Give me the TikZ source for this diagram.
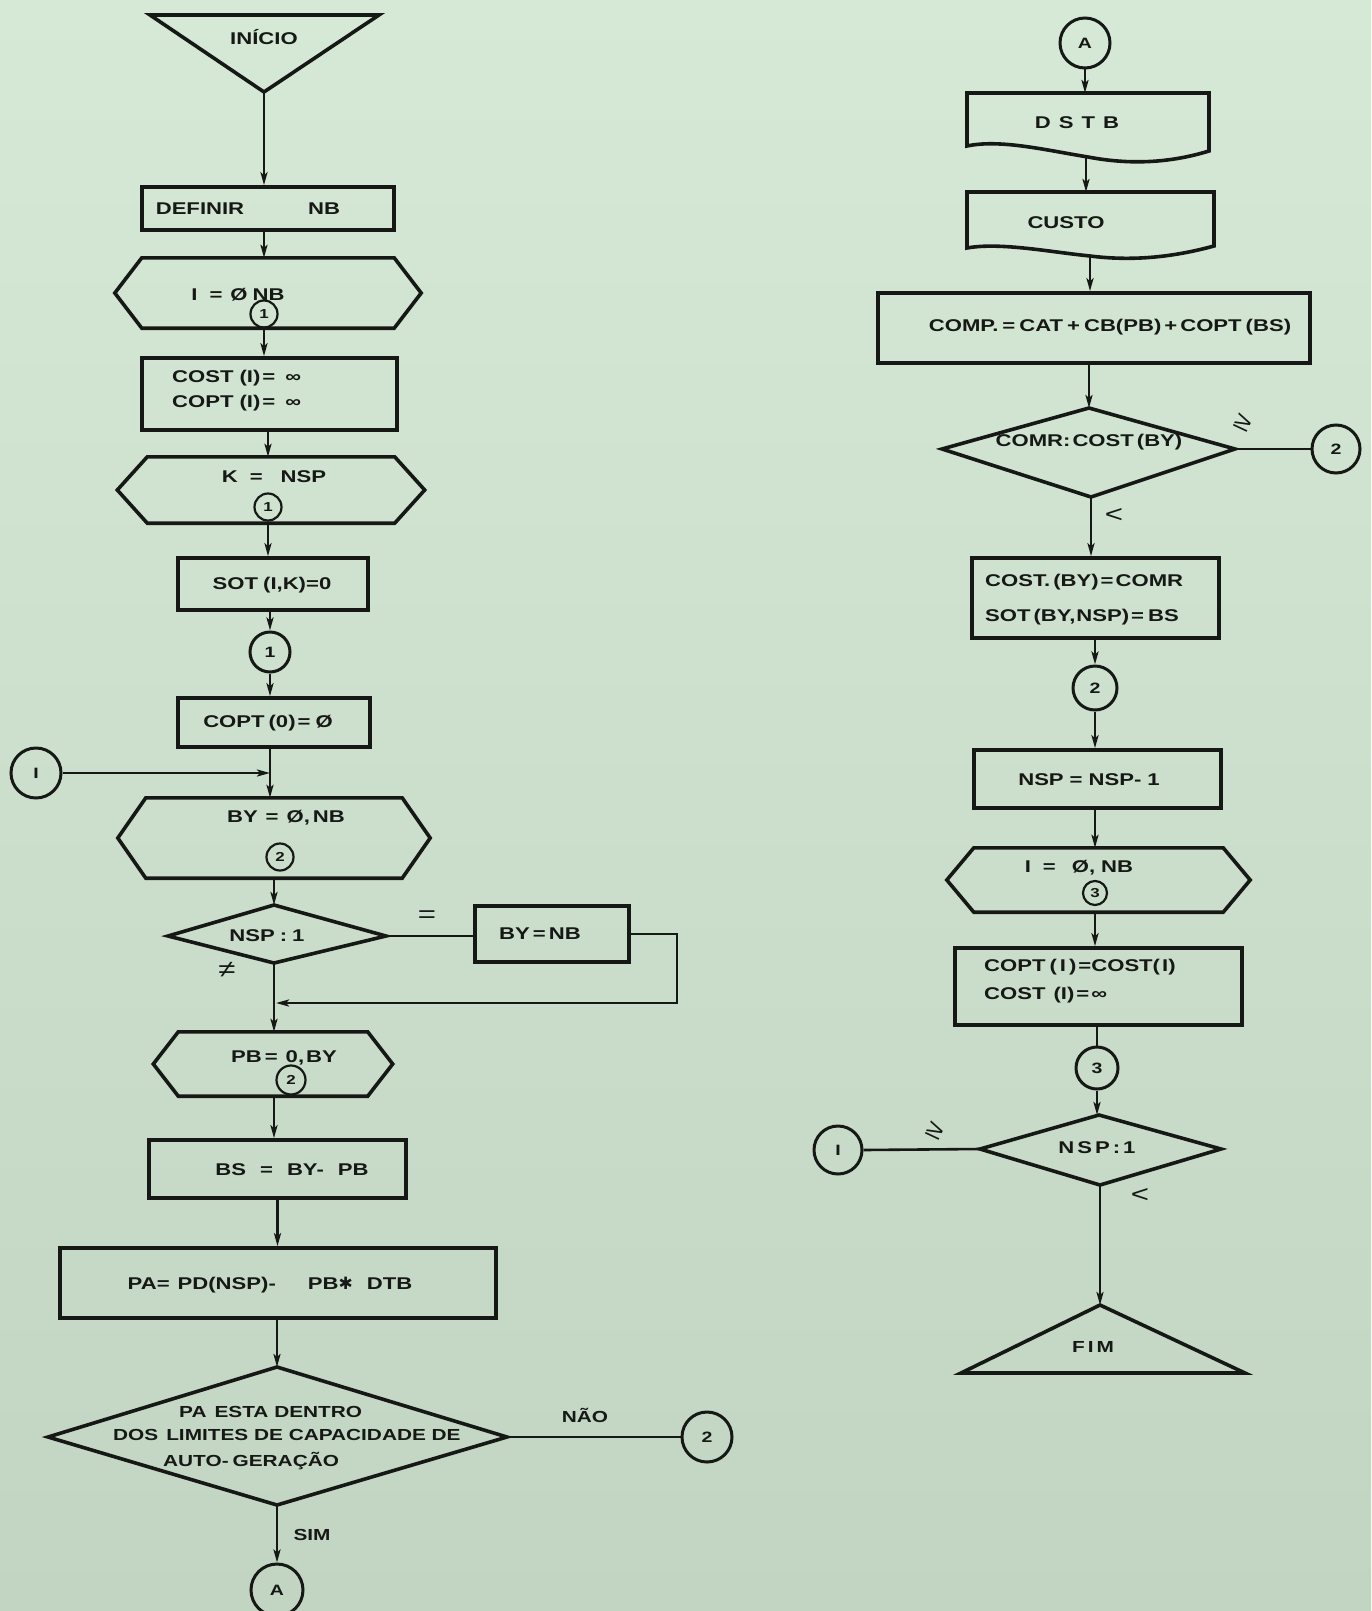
\documentclass[tikz,border=0pt]{standalone}
\usepackage{fontspec}
\setmainfont{Liberation Sans}[FakeStretch=1.3]
\newfontfamily\dvfont{DejaVu Sans}
\usetikzlibrary{arrows.meta,calc}
\definecolor{paperT}{RGB}{214,233,214}
\definecolor{paperB}{RGB}{194,213,194}
\definecolor{ink}{RGB}{22,24,22}
\tikzset{
  shp/.style={draw=ink, line width=3.6pt, line join=miter},
  con/.style={draw=ink, line width=2.6pt},
  arr/.style={con, -{Stealth[length=13pt,width=7pt,inset=3pt]}},
  boxn/.style={shp, rectangle, inner sep=0pt},
  frame/.style={rectangle, inner sep=0pt, draw=none},
  lbl/.style={text=ink, inner sep=0pt, font=\fontsize{17}{21}\selectfont\bfseries},
  lbls/.style={text=ink, inner sep=0pt, font=\fontsize{16}{20}\selectfont\bfseries},
  sym/.style={text=ink, inner sep=0pt, font=\fontsize{24}{24}\selectfont},
  bcirc/.style={draw=ink, line width=3pt, circle, inner sep=0pt, text=ink, font=\fontsize{15}{15}\selectfont\bfseries},
  scirc/.style={draw=ink, line width=2.2pt, circle, inner sep=0pt, minimum size=27pt, text=ink, font=\fontsize{13}{13}\selectfont\bfseries},
}
\begin{document}
\begin{tikzpicture}[x=1pt,y=-1pt]
\shade[top color=paperT, bottom color=paperB] (0,0) rectangle (1371,1611);
\useasboundingbox (0,0) rectangle (1371,1611);

% ================= LEFT COLUMN =================
% INICIO
\coordinate (s1) at (150,15); \coordinate (s2) at (379,15); \coordinate (s3) at (264,92);
\draw[shp] (s1) -- (s2) -- (s3) -- cycle;
\node[lbl] (tinicio) at (264,37) {INÍCIO};

% DEFINIR NB
\node[boxn, minimum width=252pt, minimum height=43pt] (def) at (268,208.5) {};
\node[lbl] (tdef1) at (200,209) {DEFINIR};
\node[lbl] (tdef2) at (324,209) {NB};
\draw[arr] (s3) -- (s3 |- def.north);

% hex 1
\node[frame, minimum width=252pt, minimum height=70pt] (hx1) at (268,293) {};
\draw[shp] (hx1.north west) -- (hx1.north east) -- ($(hx1.east)+(27,0)$) -- (hx1.south east) -- (hx1.south west) -- ($(hx1.west)+(-27,0)$) -- cycle;
\node[lbl] (thx1) at (238,295) {I\hspace{12pt}=\hspace{8pt}Ø\hspace{5pt}NB};
\node[scirc] (k1) at (264,314) {1};
\draw[arr] (def.south -| s3) -- (s3 |- hx1.north);

% COST / COPT box
\node[boxn, minimum width=255pt, minimum height=72pt] (cost) at (269.5,394) {};
\node[lbl, anchor=west] (tcost1) at (172,378) {COST\hspace{6pt}(I)\hspace{2pt}=\hspace{10pt}∞};
\node[lbl, anchor=west] (tcost2) at (172,403) {COPT\hspace{6pt}(I)\hspace{2pt}=\hspace{10pt}∞};
\draw[arr] (k1.south) -- (k1.south |- cost.north);

% hex 2
\node[frame, minimum width=247pt, minimum height=66pt] (hx2) at (271,490) {};
\draw[shp] (hx2.north west) -- (hx2.north east) -- ($(hx2.east)+(30,0)$) -- (hx2.south east) -- (hx2.south west) -- ($(hx2.west)+(-30,0)$) -- cycle;
\node[lbl] (thx2) at (274,477) {K\hspace{12pt}=\hspace{18pt}NSP};
\node[scirc] (k2) at (268,507) {1};
\draw[arr] (cost.south -| k2) -- (k2 |- hx2.north);

% SOT box
\node[boxn, minimum width=190pt, minimum height=52pt] (sot) at (273,584) {};
\node[lbl] (tsot) at (272,585) {SOT\hspace{5pt}(I,K)=0};
\draw[arr] (k2.south) -- (k2.south |- sot.north);

% connector circle 1
\node[bcirc, minimum size=40pt] (c1) at (270,652) {1};
\draw[arr] (sot.south -| c1) -- (c1.north);

% COPT(0) box
\node[boxn, minimum width=192pt, minimum height=49pt] (copt0) at (274,722.5) {};
\node[lbl] (tcopt0) at (268,723) {COPT\hspace{4pt}(0)\hspace{2pt}=\hspace{5pt}Ø};
\draw[arr] (c1.south) -- (c1.south |- copt0.north);

% entry connector I
\node[bcirc, minimum size=50pt] (cIL) at (36,773) {I};
\draw[arr] (cIL.east) -- (cIL.east -| c1.south);

% hex 3
\node[frame, minimum width=256pt, minimum height=80pt] (hx3) at (274,838) {};
\draw[shp] (hx3.north west) -- (hx3.north east) -- ($(hx3.east)+(28,0)$) -- (hx3.south east) -- (hx3.south west) -- ($(hx3.west)+(-28,0)$) -- cycle;
\node[lbl] (thx3) at (286,818) {BY\hspace{8pt}=\hspace{8pt}Ø,\hspace{3pt}NB};
\node[scirc] (k3) at (280,857) {2};
\draw[arr] (copt0.south -| c1) -- (c1 |- hx3.north);

% diamond NSP:1
\coordinate (d1t) at (274,905); \coordinate (d1l) at (168,936); \coordinate (d1r) at (386,936); \coordinate (d1b) at (274,963);
\draw[shp] (d1t) -- (d1r) -- (d1b) -- (d1l) -- cycle;
\node[lbl] (td1) at (267,936) {NSP\hspace{5pt}:\hspace{5pt}1};
\draw[arr] (hx3.south -| d1t) -- (d1t);

% BY = NB
\node[boxn, minimum width=154pt, minimum height=56pt] (bynb) at (552,934) {};
\node[lbl] (tbynb) at (540,934) {BY\hspace{3pt}=\hspace{3pt}NB};
\draw[con] (d1r) -- (d1r -| bynb.west);
\node[sym] (teq) at (427,917) {=};
\node[sym] (tneq) at (227,970) {≠};

% loop back
\coordinate (lpc) at (677,1003);
\coordinate (mrg) at (276,1003);
\draw[arr] (bynb.east) -| (lpc) -- (mrg);

% hex 4
\node[frame, minimum width=189pt, minimum height=64pt] (hx4) at (273,1064) {};
\draw[shp] (hx4.north west) -- (hx4.north east) -- ($(hx4.east)+(25,0)$) -- (hx4.south east) -- (hx4.south west) -- ($(hx4.west)+(-25,0)$) -- cycle;
\node[lbl] (thx4) at (284,1058) {PB\hspace{3pt}=\hspace{8pt}0,\hspace{2pt}BY};
\node[scirc, minimum size=29pt] (k4) at (291,1080) {2};
\draw[arr] (d1b) -- (d1b |- hx4.north);

% BS box
\node[boxn, minimum width=257pt, minimum height=58pt] (bs) at (277.5,1169) {};
\node[lbl] (tbs) at (292,1170) {BS\hspace{14pt}=\hspace{14pt}BY-\hspace{14pt}PB};
\draw[arr] (hx4.south -| d1b) -- (d1b |- bs.north);

% PA box
\node[boxn, minimum width=436pt, minimum height=70pt] (pa) at (278,1283) {};
\node[lbl] (tpa) at (270,1285) {PA=\hspace{8pt}PD(NSP)-\hspace{32pt}PB{\dvfont\fontsize{17}{17}\selectfont ✱}\hspace{14pt}DTB};
\draw[arr] (bs.south) -- (bs.south |- pa.north);

% big diamond
\coordinate (d2t) at (277,1367); \coordinate (d2l) at (48,1437); \coordinate (d2r) at (507,1437); \coordinate (d2b) at (277,1505);
\draw[shp] (d2t) -- (d2r) -- (d2b) -- (d2l) -- cycle;
\node[lbls, anchor=west] (td2a) at (179,1412) {PA\hspace{8pt}ESTA DENTRO};
\node[lbls, anchor=west] (td2b) at (113,1435) {DOS\hspace{8pt}LIMITES DE CAPACIDADE DE};
\node[lbls, anchor=west] (td2c) at (163,1461) {AUTO-\hspace{4pt}GERAÇÃO};
\draw[arr] (pa.south -| d2t) -- (d2t);

% NAO -> 2
\node[bcirc, minimum size=50pt] (c2L) at (707,1437) {2};
\draw[con] (d2r) -- (c2L.west);
\node[lbls] (tnao) at (585,1415) {NÃO};

% SIM -> A
\node[bcirc, minimum size=52pt] (cA1) at (277,1590) {A};
\draw[arr] (d2b) -- (cA1.north);
\node[lbls] (tsim) at (312,1535) {SIM};

% ================= RIGHT COLUMN =================
\node[bcirc, minimum size=50pt] (cA2) at (1085,43) {A};

% DSTB document
\coordinate (dst) at (1085,93);
\coordinate (dsb) at (1086,157);
\draw[shp] (967,93) -- (1209,93) -- (1209,151) .. controls (1170,163) and (1130,165) .. (1088,157) .. controls (1045,150) and (1000,139) .. (967,146) -- cycle;
\node[lbl] (tdstb) at (1077,123) {D\hspace{8pt}S\hspace{8pt}T\hspace{8pt}B};
\draw[arr] (cA2.south) -- (dst);

% CUSTO document
\coordinate (cut) at (1086,192);
\coordinate (cub) at (1090,256);
\draw[shp] (967,192) -- (1214,192) -- (1214,246) .. controls (1170,258) and (1130,261) .. (1090,256) .. controls (1050,252) and (1000,242) .. (967,248) -- cycle;
\node[lbl] (tcusto) at (1066,223) {CUSTO};
\draw[arr] (dsb) -- (cut);

% COMP box
\node[boxn, minimum width=432pt, minimum height=70pt] (comp) at (1094,328) {};
\node[lbl] (tcomp) at (1110,327) {COMP.\hspace{4pt}=\hspace{4pt}CAT\hspace{4pt}+\hspace{4pt}CB(PB)\hspace{3pt}+\hspace{3pt}COPT\hspace{4pt}(BS)};
\draw[arr] (cub) -- (cub |- comp.north);

% diamond COMR : COST(BY)
\coordinate (d3t) at (1089,408); \coordinate (d3l) at (942,449); \coordinate (d3r) at (1235,449); \coordinate (d3b) at (1091,497);
\draw[shp] (d3t) -- (d3r) -- (d3b) -- (d3l) -- cycle;
\node[lbl] (td3) at (1089,442) {COMR:\hspace{2pt}COST\hspace{3pt}(BY)};
\draw[arr] (d3t |- comp.south) -- (d3t);

\node[bcirc, minimum size=48pt] (c2R) at (1336,449) {2};
\draw[con] (d3r) -- (c2R.west);
\node[sym, rotate=-25] (tge1) at (1243,423) {≥};
\node[sym] (tlt1) at (1114,515) {<};

% COST.(BY) box
\node[boxn, minimum width=247pt, minimum height=80pt] (costby) at (1095.5,598) {};
\node[lbl, anchor=west] (tcb1) at (985,582) {COST.\hspace{3pt}(BY)\hspace{2pt}=\hspace{2pt}COMR};
\node[lbl, anchor=west] (tcb2) at (985,617) {SOT\hspace{3pt}(BY,\hspace{1pt}NSP)\hspace{2pt}=\hspace{4pt}BS};
\draw[arr] (d3b) -- (d3b |- costby.north);

\node[bcirc, minimum size=44pt] (c2) at (1095,688) {2};
\draw[arr] (costby.south -| c2) -- (c2.north);

% NSP box
\node[boxn, minimum width=247pt, minimum height=58pt] (nsp) at (1097.5,779) {};
\node[lbl] (tnsp) at (1089,780) {NSP\hspace{6pt}=\hspace{6pt}NSP-\hspace{6pt}1};
\draw[arr] (c2.south) -- (c2.south |- nsp.north);

% hex 5
\node[frame, minimum width=249pt, minimum height=64pt] (hx5) at (1098.5,880) {};
\draw[shp] (hx5.north west) -- (hx5.north east) -- ($(hx5.east)+(27,0)$) -- (hx5.south east) -- (hx5.south west) -- ($(hx5.west)+(-27,0)$) -- cycle;
\node[lbl] (thx5) at (1079,868) {I\hspace{12pt}=\hspace{16pt}Ø,\hspace{6pt}NB};
\node[scirc, minimum size=24pt] (k5) at (1095,893) {3};
\draw[arr] (nsp.south -| c2) -- (c2 |- hx5.north);

% COPT box
\node[boxn, minimum width=287pt, minimum height=77pt] (copt) at (1098.5,986.5) {};
\node[lbl, anchor=west] (tco1) at (984,967) {COPT\hspace{4pt}(\hspace{3pt}I\hspace{3pt})\hspace{2pt}=COST(\hspace{2pt}I)};
\node[lbl, anchor=west] (tco2) at (984,995) {COST\hspace{8pt}(I)\hspace{2pt}=\hspace{2pt}∞};
\draw[arr] (hx5.south -| k5) -- (k5 |- copt.north);

\node[bcirc, minimum size=42pt] (c3) at (1097,1068) {3};
\draw[con] (copt.south -| c3) -- (c3.north);

% diamond NSP:1 (right)
\coordinate (d4t) at (1099,1115); \coordinate (d4l) at (980,1149); \coordinate (d4r) at (1221,1149); \coordinate (d4b) at (1100,1185);
\draw[shp] (d4t) -- (d4r) -- (d4b) -- (d4l) -- cycle;
\node[lbl] (td4) at (1097,1148) {N\hspace{3pt}S\hspace{3pt}P\hspace{3pt}:\hspace{3pt}1};
\draw[arr] (c3.south) -- (c3.south |- d4t);

\node[bcirc, minimum size=48pt] (cIR) at (838,1150) {I};
\draw[con] (cIR.east) -- (d4l);
\node[sym, rotate=-25] (tge2) at (935,1131) {≥};
\node[sym] (tlt2) at (1140,1195) {<};

% FIM
\coordinate (fa) at (1100,1305); \coordinate (fl) at (961,1373); \coordinate (fr) at (1245,1373);
\draw[shp] (fa) -- (fr) -- (fl) -- cycle;
\node[lbls] (tfim) at (1093,1347) {F\hspace{3pt}I\hspace{3pt}M};
\draw[arr] (d4b) -- (fa);
\end{tikzpicture}
\end{document}
